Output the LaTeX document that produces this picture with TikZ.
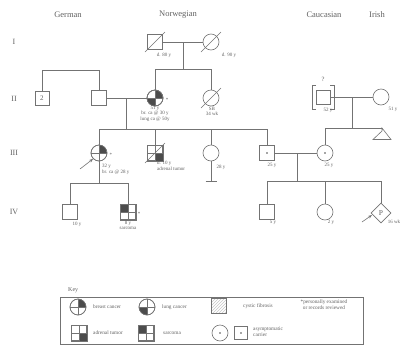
\documentclass[tikz,border=0pt]{standalone}
\usepackage{fontspec}
\setmainfont{Liberation Serif}
\usetikzlibrary{patterns,shapes.geometric,arrows.meta,calc}
\definecolor{lc}{gray}{0.45}
\definecolor{tc}{gray}{0.38}
\definecolor{qc}{gray}{0.30}
\newcommand{\qcirc}[3]{\begin{scope}\clip (#1.center) circle (8pt); \fill[qc] (#1.center) rectangle ++(#2,#3);\end{scope}%
  \draw[ln] (#1.north) -- (#1.south) (#1.west) -- (#1.east); \draw[ln] (#1.center) circle (8pt);}
\newcommand{\qsquare}[3]{\fill[qc] (#1.center) rectangle ++(#2,#3);%
  \draw[ln] (#1.north) -- (#1.south) (#1.west) -- (#1.east) (#1.north west) rectangle (#1.south east);}
\newcommand{\deadline}[1]{\draw[ln] (#1.center) ++(-10,10) -- ++(20,-20);}
\begin{document}
\begin{tikzpicture}[x=1pt,y=-1pt,
  ln/.style={draw=lc, line width=0.6pt},
  sq/.style={rectangle, draw=lc, line width=0.6pt, minimum size=15pt, inner sep=0pt, fill=white},
  ci/.style={circle, draw=lc, line width=0.6pt, minimum size=16pt, inner sep=0pt, fill=white},
  hdr/.style={text=tc, font=\fontsize{8.5}{9}\selectfont, inner sep=0pt},
  gen/.style={text=tc, font=\fontsize{8}{9}\selectfont, inner sep=0pt},
  lab/.style={text=tc, font=\fontsize{5}{5.5}\selectfont, inner sep=0pt},
  klab/.style={text=tc, font=\fontsize{5.3}{6}\selectfont, inner sep=0pt, anchor=west},
  arr/.style={ln, -{Stealth[length=4pt,width=3pt]}}
]
\useasboundingbox (0,0) rectangle (400,346);

% headers
\node[hdr] (hG) at (68,15) {German};
\node[hdr] (hN) at (178,15) {Norwegian};
\node[hdr] (hC) at (324,15) {Caucasian};
\node[hdr] (hI) at (377,15) {Irish};
% generations
\node[gen] (gI) at (14,42) {I};
\node[gen] (gII) at (14,99) {II};
\node[gen] (gIII) at (14,153) {III};
\node[gen] (gIV) at (14,212) {IV};

% ---------- Generation I
\node[sq] (i1) at (155,42) {};
\node[ci] (i2) at (211,42) {};
\deadline{i1}
\deadline{i2}
\node[lab] (l1) at (164,55) {d. 80 y};
\node[lab] (l2) at (229,55) {d. 90 y};
\draw[ln] (i1.east) -- (i2.west);
\coordinate (m1) at (183,42);
\coordinate (s1) at (183,69);
\draw[ln] (m1) -- (s1);
\coordinate (s1a) at (155,69);
\coordinate (s1b) at (211,69);
\draw[ln] (s1a) -- (s1b);

% ---------- Generation II
\node[sq, minimum size=14pt, text=tc, font=\fontsize{7}{7}\selectfont] (ii1) at (42,98) {2};
\node[sq] (ii2) at (99,98) {};
\coordinate (g1a) at (42,70);
\coordinate (g1b) at (99,70);
\draw[ln] (ii1.north) -- (g1a) -- (g1b) -- (ii2.north);
\node[ci] (ii3) at (155,98) {};
\qcirc{ii3}{8}{-8}
\qcirc{ii3}{-8}{8}
\node[lab] (st1) at (167,100) {*};
\node[ci] (ii4) at (211,98) {};
\deadline{ii4}
\draw[ln] (s1a) -- (ii3.north);
\draw[ln] (s1b) -- (ii4.north);
\node[lab] (l3) at (155,108.5) {51 y};
\node[lab] (l4) at (155,113.5) {br. ca @ 30 y};
\node[lab] (l5) at (155,119) {lung ca @ 50y};
\node[lab] (l6) at (212,109) {SB};
\node[lab] (l7) at (212,114) {34 wk};
\draw[ln] (ii2.east) -- (ii3.west);
\coordinate (m2) at (126,98);
\coordinate (s2) at (126,129);
\draw[ln] (m2) -- (s2);

\node[sq, minimum size=14pt] (ii5) at (323,97) {};
\draw[ln, line width=0.9pt] ($(ii5.center)+(-7,-12)$) -- ++(-4,0) -- ++(0,24) -- ++(4,0);
\draw[ln, line width=0.9pt] ($(ii5.center)+(7,-12)$) -- ++(4,0) -- ++(0,24) -- ++(-4,0);
\node[lab, font=\fontsize{6.5}{7}\selectfont] (q) at (323,79) {?};
\node[lab] (l8) at (328,110) {52 y};
\node[ci] (ii6) at (381,97) {};
\node[lab] (l9) at (393,109) {51 y};
\draw[ln] (ii5.east) -- (ii6.west);
\coordinate (m3) at (352,97);
\coordinate (s3) at (352,128);
\draw[ln] (m3) -- (s3);

% ---------- Generation III
\coordinate (s2a) at (99,129);
\coordinate (s2b) at (267,129);
\draw[ln] (s2a) -- (s2b);
\node[ci] (iii1) at (99,153) {};
\qcirc{iii1}{8}{-8}
\node[lab] (st2) at (111,155) {*};
\node[sq] (iii2) at (155,153) {};
\qsquare{iii2}{7.5}{7.5}
\deadline{iii2}
\node[ci] (iii3) at (211,153) {};
\node[sq] (iii4) at (267,153) {};
\fill[qc] (iii4.center) circle (0.9pt);
\node[ci] (iii5) at (325,153) {};
\fill[qc] (iii5.center) circle (0.9pt);
\draw[ln] (s2a) -- (iii1.north);
\draw[ln] (155,129) -- (iii2.north);
\draw[ln] (211,129) -- (iii3.north);
\draw[ln] (s2b) -- (iii4.north);
\coordinate (a1) at (80,169);
\draw[arr] (a1) -- (iii1.south west);
\node[lab, anchor=west] (l10) at (102,166) {32 y};
\node[lab, anchor=west] (l11) at (102,172) {br. ca @ 28 y};
\node[lab, anchor=west] (l12) at (157,163) {d. 10 y};
\node[lab, anchor=west] (l13) at (157,168.5) {adrenal tumor};
\node[lab] (l14) at (221,167) {28 y};
\coordinate (nb) at (211,181);
\draw[ln] (iii3.south) -- (nb);
\draw[ln] (205.5,181) -- (216.5,181);
\node[lab] (l15) at (272,165) {25 y};
\node[lab] (l16) at (329,165) {25 y};
\draw[ln] (iii4.east) -- (iii5.west);
\coordinate (s3a) at (325,128);
\coordinate (s3b) at (382,128);
\draw[ln] (s3a) -- (s3b);
\draw[ln] (s3a) -- (iii5.north);
\coordinate (tri) at (382,131);
\draw[ln] (s3b) -- (tri) -- (373,139.5) -- (391,139.5) -- cycle;

% ---------- Generation IV
\coordinate (m4) at (297,153);
\coordinate (s4) at (297,181);
\draw[ln] (m4) -- (s4);
\coordinate (s4a) at (267,181);
\coordinate (s4b) at (381,181);
\draw[ln] (s4a) -- (s4b);
\coordinate (s5) at (99,183);
\draw[ln] (iii1.south) -- (s5);
\coordinate (s5a) at (70,183);
\coordinate (s5b) at (128,183);
\draw[ln] (s5a) -- (s5b);

\node[sq] (iv1) at (70,212) {};
\node[sq] (iv2) at (128,212) {};
\qsquare{iv2}{-7.5}{-7.5}
\node[lab] (st3) at (139,214) {*};
\draw[ln] (s5a) -- (iv1.north);
\draw[ln] (s5b) -- (iv2.north);
\node[lab] (l17) at (77,224) {10 y};
\node[lab] (l18) at (128,223) {8 y};
\node[lab] (l19) at (128,228.5) {sarcoma};

\node[sq] (iv3) at (267,212) {};
\node[ci] (iv4) at (325,212) {};
\node[diamond, draw=lc, line width=0.6pt, minimum size=20pt, inner sep=0pt, text=tc, font=\fontsize{7.5}{8}\selectfont] (iv5) at (381,213) {P};
\draw[ln] (s4a) -- (iv3.north);
\draw[ln] (325,181) -- (iv4.north);
\draw[ln] (s4b) -- (iv5.north);
\node[lab] (l20) at (273,222) {5 y};
\node[lab] (l21) at (331,222) {2 y};
\node[lab] (l22) at (394,222) {16 wk};
\coordinate (a2) at (362,222);
\coordinate (a2t) at (372,215);
\draw[arr] (a2) -- (a2t);

% ---------- Key
\node[lab, anchor=west, font=\fontsize{6}{6}\selectfont] (kt) at (68,290) {Key};
\draw[ln, line width=0.5pt] (60,297) rectangle (363,344);
\node[ci] (k1) at (78,307) {};
\qcirc{k1}{8}{-8}
\node[klab] (k1t) at (93,307) {breast cancer};
\node[ci] (k2) at (147,307) {};
\qcirc{k2}{-8}{8}
\node[klab] (k2t) at (162,307) {lung cancer};
\node[sq, pattern=north east lines, pattern color=lc!40] (k3) at (219,306) {};
\node[klab] (k3t) at (243,306) {cystic fibrosis};
\node[lab, align=center, font=\fontsize{5.3}{6}\selectfont] (k8) at (324,305) {*personally examined\\or records reviewed};
\node[sq] (k4) at (79,333) {};
\qsquare{k4}{7.5}{7.5}
\node[klab] (k4t) at (93,333) {adrenal tumor};
\node[sq] (k5) at (146,333) {};
\qsquare{k5}{-7.5}{-7.5}
\node[klab] (k5t) at (163,333) {sarcoma};
\node[ci] (k6) at (220,333) {};
\fill[qc] (k6.center) circle (0.9pt);
\node[sq, minimum size=13pt] (k7) at (241,333) {};
\fill[qc] (k7.center) circle (0.9pt);
\node[klab, align=left] (k9) at (253,332) {asymptomatic\\carrier};
\end{tikzpicture}
\end{document}
